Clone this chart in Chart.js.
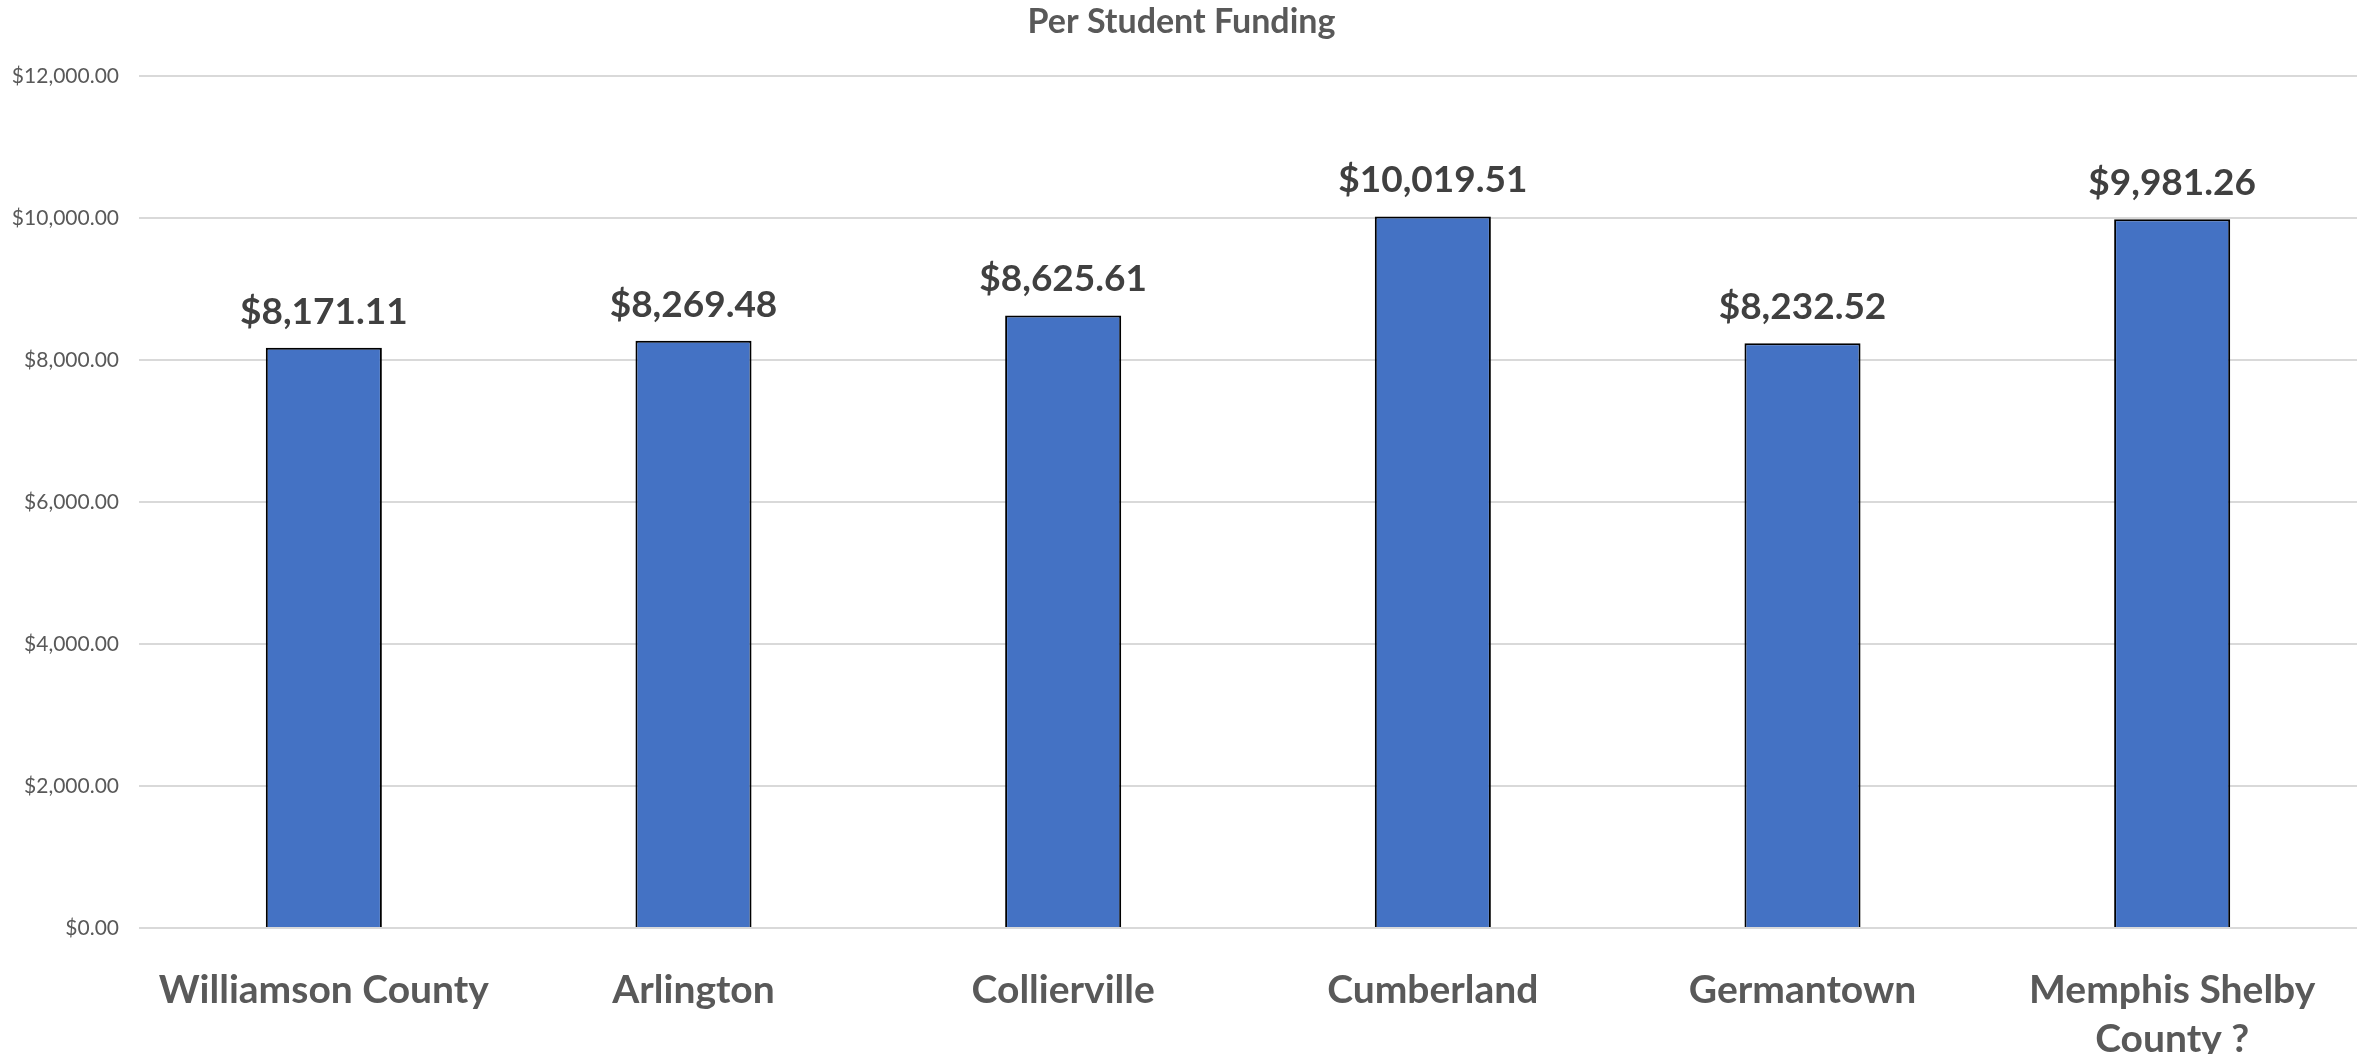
<!DOCTYPE html>
<html>
<head>
<meta charset="utf-8">
<title>Per Student Funding</title>
<script src="https://cdn.jsdelivr.net/npm/chart.js@4.4.1/dist/chart.umd.min.js"></script>
<style>
  html, body { margin: 0; padding: 0; background: #ffffff; }
  #wrap { width: 2377px; height: 1054px; }
</style>
</head>
<body>
<div id="wrap"><canvas id="fundingChart"></canvas></div>
<script>
// data
const districts = ["Williamson County", "Arlington", "Collierville", "Cumberland", "Germantown", ["Memphis Shelby", "County ?"]];
const perStudent = [8171.11, 8269.48, 8625.61, 10019.51, 8232.52, 9981.26];
const yTicks = [0, 2000, 4000, 6000, 8000, 10000, 12000];

const money = (v) => "$" + v.toLocaleString("en-US", { minimumFractionDigits: 2, maximumFractionDigits: 2 });

// draws the value above each bar
const valueLabels = {
  id: "valueLabels",
  afterDatasetsDraw(chart) {
    const { ctx } = chart;
    const meta = chart.getDatasetMeta(0);
    ctx.save();
    ctx.font = "bold 37px Lato";
    ctx.fillStyle = "#404040";
    ctx.textAlign = "center";
    ctx.textBaseline = "alphabetic";
    meta.data.forEach((bar, i) => {
      ctx.fillText(money(perStudent[i]), bar.x, bar.y - 24);
    });
    ctx.restore();
  }
};

Chart.defaults.font.family = "Lato";

new Chart(document.getElementById("fundingChart").getContext("2d"), {
  type: "bar",
  data: {
    labels: districts,
    datasets: [{
      label: "Per Student Funding",
      data: perStudent,
      backgroundColor: "#4472C4",
      borderColor: "#000000",
      borderWidth: 2,
      categoryPercentage: 1.0,
      barPercentage: 0.314
    }]
  },
  options: {
    responsive: true,
    maintainAspectRatio: false,
    devicePixelRatio: 1,
    animation: false,
    layout: { padding: { top: 0, left: 6, right: 20, bottom: 0 } },
    plugins: {
      legend: { display: false },
      tooltip: { enabled: false },
      title: {
        display: true,
        text: "Per Student Funding",
        color: "#595959",
        font: { size: 34, weight: "bold", lineHeight: 1.2 },
        padding: { top: 2, bottom: 33 }
      }
    },
    scales: {
      x: {
        grid: { display: false },
        border: { display: false },
        ticks: {
          color: "#595959",
          font: { size: 39, weight: "bold", lineHeight: 1.25 },
          padding: 30,
          maxRotation: 0,
          autoSkip: false
        },
        afterFit(scale) { scale.height = 126; }
      },
      y: {
        min: 0,
        max: 12000,
        afterBuildTicks(scale) { scale.ticks = yTicks.map(v => ({ value: v })); },
        grid: { color: "#D9D9D9", lineWidth: 2, drawTicks: false },
        border: { display: false },
        ticks: {
          color: "#595959",
          font: { size: 21 },
          padding: 20,
          callback: (v) => money(v)
        },
        afterFit(scale) { scale.width = 133; }
      }
    }
  },
  plugins: [valueLabels]
});
</script>
</body>
</html>
